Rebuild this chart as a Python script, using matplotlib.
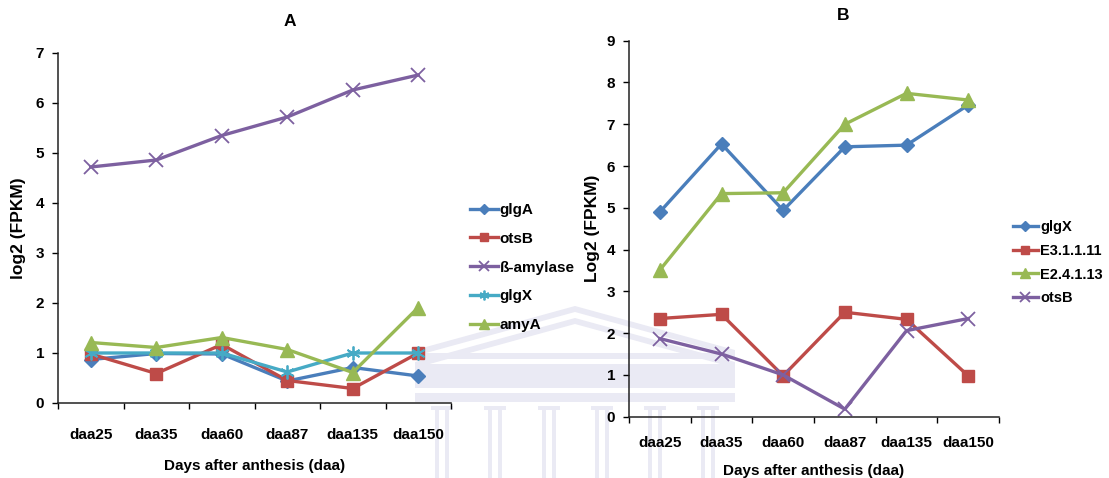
import matplotlib
matplotlib.use("Agg")
import matplotlib.pyplot as plt
from matplotlib.patches import Rectangle, Polygon

plt.rcParams['font.family'] = ['Liberation Sans', 'DejaVu Sans']
plt.rcParams['font.weight'] = 'bold'
FS = 11

stages = ["daa25", "daa35", "daa60", "daa87", "daa135", "daa150"]

# Panel A series
a_glgA = [0.87, 0.99, 0.98, 0.44, 0.71, 0.54]
a_otsB = [0.98, 0.59, 1.17, 0.45, 0.29, 1.00]
a_bamylase = [4.72, 4.86, 5.35, 5.72, 6.26, 6.56]
a_glgX = [1.00, 1.00, 1.00, 0.62, 1.00, 1.00]
a_amyA = [1.21, 1.11, 1.31, 1.07, 0.61, 1.91]

# Panel B series
b_glgX = [4.90, 6.53, 4.94, 6.46, 6.50, 7.46]
b_E31111 = [2.35, 2.45, 0.98, 2.50, 2.33, 0.98]
b_E24113 = [3.51, 5.34, 5.36, 7.00, 7.74, 7.58]
b_otsB = [1.87, 1.50, 1.00, 0.18, 2.06, 2.35]

BLUE = "#4A7EBB"
RED = "#BE4B48"
PURPLE = "#7D60A0"
CYAN = "#46AAC5"
GREEN = "#98B954"
WM = "#EAEAF4"

W, H = 1109, 478
fig = plt.figure(figsize=(W / 100, H / 100), dpi=100)


def fx(px):
    return px / W


def fy(py):
    return 1 - py / H


# faint building emblem in the background
def wm_rect(x0, y0, x1, y1):
    fig.patches.append(Rectangle((fx(x0), fy(y1)), fx(x1) - fx(x0), fy(y0) - fy(y1),
                                 transform=fig.transFigure, facecolor=WM,
                                 edgecolor='none', zorder=0))


cx = 575
left, right = 415, 735
# roof: two broad sloping strokes
for off, t in ((0, 6), (12, 6)):
    fig.patches.append(Polygon([(fx(left), fy(350 + off)), (fx(cx), fy(306 + off)),
                                (fx(right), fy(350 + off)), (fx(right), fy(350 + off + t)),
                                (fx(cx), fy(306 + off + t)), (fx(left), fy(350 + off + t))],
                               closed=True, transform=fig.transFigure,
                               facecolor=WM, edgecolor='none', zorder=0))
# frieze bands
wm_rect(left, 353, right, 359)
wm_rect(left, 364, right, 388)
wm_rect(left, 393, right, 402)
# openings in the middle band
for c in (cx - 133, cx - 80, cx - 26.5, cx + 26.5, cx + 80, cx + 133):
    wm_rect(c - 14, 369, c + 14, 383)
# columns in pairs with capitals
for c in (cx - 133, cx - 80, cx - 26.5, cx + 26.5, cx + 80, cx + 133):
    wm_rect(c - 11, 406, c + 11, 410)
    wm_rect(c - 7, 410, c - 3, 478)
    wm_rect(c + 3, 410, c + 7, 478)

x = list(range(len(stages)))


def setup_axes(ax, ymax, ylabel, tickpad, labelpad):
    ax.set_facecolor('none')
    ax.set_xlim(-0.5, len(stages) - 0.5)
    ax.set_ylim(0, ymax)
    ax.set_yticks(range(0, ymax + 1))
    ax.set_xticks([i - 0.5 for i in range(len(stages) + 1)])
    ax.set_xticklabels([])
    ax.set_xticks(x, minor=True)
    ax.set_xticklabels(stages, minor=True)
    ax.tick_params(axis='x', which='minor', length=0, pad=tickpad, labelsize=FS)
    ax.tick_params(axis='x', which='major', length=4, width=1, direction='out')
    ax.tick_params(axis='y', length=4, width=1, direction='out', labelsize=FS, pad=6)
    for s in ('top', 'right'):
        ax.spines[s].set_visible(False)
    for s in ('left', 'bottom'):
        ax.spines[s].set_linewidth(1.1)
        ax.spines[s].set_color('#222222')
    for lbl in ax.get_xticklabels(minor=True) + ax.get_yticklabels():
        lbl.set_fontweight('bold')
    ax.set_ylabel(ylabel, fontsize=12.5, fontweight='bold')
    ax.set_xlabel("Days after anthesis (daa)", fontsize=FS, fontweight='bold', labelpad=labelpad)


lw = 2.4
leg_kw = dict(loc='upper left', frameon=False, handletextpad=0.15, markerscale=0.7,
              borderaxespad=0, borderpad=0)

# Panel A
axA = fig.add_axes([fx(58), fy(403), fx(451) - fx(58), fy(53) - fy(403)], zorder=2)
setup_axes(axA, 7, "log2 (FPKM)", tickpad=18, labelpad=12)
axA.yaxis.set_label_coords(-0.082, 0.5)
axA.plot(x, a_glgA, color=BLUE, lw=lw, marker='D', ms=7, label="glgA")
axA.plot(x, a_otsB, color=RED, lw=lw, marker='s', ms=9, label="otsB")
axA.plot(x, a_bamylase, color=PURPLE, lw=lw, marker='x', ms=10, mew=1.3, label="ß-amylase")
axA.plot(x, a_glgX, color=CYAN, lw=lw, marker=(6, 2, 0), ms=10, mew=1.3, label="glgX")
axA.plot(x, a_amyA, color=GREEN, lw=lw, marker='^', ms=10, label="amyA")
fig.legend(*axA.get_legend_handles_labels(), bbox_to_anchor=(fx(470), fy(203)),
           fontsize=FS, handlelength=1.8, labelspacing=0.97, **leg_kw)
fig.text(fx(290), fy(22), "A", fontsize=FS + 1.5, fontweight='bold', ha='center', va='center')

# Panel B
axB = fig.add_axes([fx(629), fy(416.7), fx(999) - fx(629), fy(40.7) - fy(416.7)], zorder=2)
setup_axes(axB, 9, "Log2 (FPKM)", tickpad=14, labelpad=10)
axB.yaxis.set_label_coords(-0.078, 0.5)
axB.plot(x, b_glgX, color=BLUE, lw=lw, marker='D', ms=7, label="glgX")
axB.plot(x, b_E31111, color=RED, lw=lw, marker='s', ms=9, label="E3.1.1.11")
axB.plot(x, b_E24113, color=GREEN, lw=lw, marker='^', ms=10, label="E2.4.1.13")
axB.plot(x, b_otsB, color=PURPLE, lw=lw, marker='x', ms=10, mew=1.3, label="otsB")
fig.legend(*axB.get_legend_handles_labels(), bbox_to_anchor=(fx(1013), fy(220)),
           fontsize=10.5, handlelength=1.7, labelspacing=0.67, **leg_kw)
fig.text(fx(843), fy(15), "B", fontsize=FS + 1.5, fontweight='bold', ha='center', va='center')

fig.savefig("out.png", dpi=100)
